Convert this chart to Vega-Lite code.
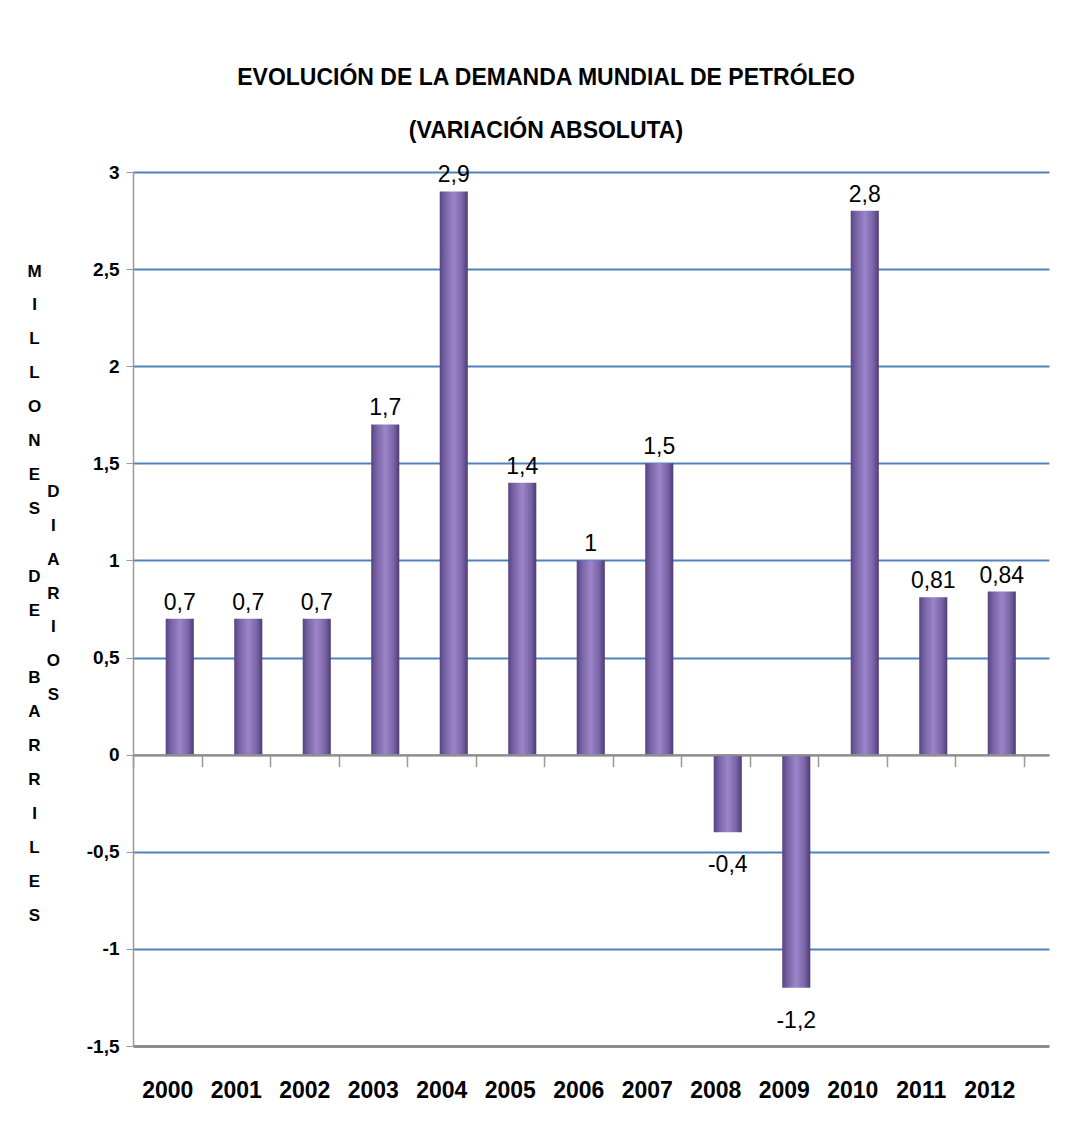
{
  "$schema": "https://vega.github.io/schema/vega-lite/v6.json",
  "autosize": "none",
  "padding": {"left": 133, "top": 172, "right": 42, "bottom": 93},
  "width": 916,
  "height": 874,
  "background": "white",
  "config": {
    "locale": {"number": {"decimal": ",", "thousands": ".", "grouping": [3], "currency": ["", " €"], "minus": "-"}},
    "view": {"stroke": null},
    "font": "Liberation Sans"
  },
  "title": {
    "text": ["EVOLUCIÓN DE LA DEMANDA MUNDIAL DE PETRÓLEO", "(VARIACIÓN ABSOLUTA)"],
    "font": "Liberation Sans",
    "fontSize": 23,
    "fontWeight": "bold",
    "color": "#000000",
    "anchor": "middle",
    "frame": "group",
    "dx": -45,
    "baseline": "alphabetic",
    "offset": 2,
    "lineHeight": 53
  },
  "data": {
    "values": [
      {"year": "2000", "v": 0.7},
      {"year": "2001", "v": 0.7},
      {"year": "2002", "v": 0.7},
      {"year": "2003", "v": 1.7},
      {"year": "2004", "v": 2.9},
      {"year": "2005", "v": 1.4},
      {"year": "2006", "v": 1},
      {"year": "2007", "v": 1.5},
      {"year": "2008", "v": -0.4},
      {"year": "2009", "v": -1.2},
      {"year": "2010", "v": 2.8},
      {"year": "2011", "v": 0.81},
      {"year": "2012", "v": 0.84}
    ]
  },
  "encoding": {
    "x": {
      "field": "year",
      "type": "ordinal",
      "title": null,
      "scale": {"paddingInner": 0, "paddingOuter": 0.186, "align": 0},
      "axis": {
        "orient": "bottom",
        "offset": -291.33,
        "tickBand": "extent",
        "tickSize": 12,
        "tickColor": "#9a9a9a",
        "tickWidth": 1.5,
        "domainColor": "#8c8c8c",
        "domainWidth": 2,
        "labelAngle": 0,
        "labelFontSize": 23,
        "labelFontWeight": "bold",
        "labelColor": "#000000",
        "labelBaseline": "middle",
        "labelPadding": 324,
        "grid": false,
        "zindex": 1
      }
    },
    "y": {
      "field": "v",
      "type": "quantitative",
      "scale": {"domain": [-1.5, 3], "nice": false, "zero": false},
      "axis": {
        "values": [-1.5, -1, -0.5, 0, 0.5, 1, 1.5, 2, 2.5, 3],
        "format": "~g",
        "labelFontSize": 19,
        "labelFontWeight": "bold",
        "labelColor": "#000000",
        "labelPadding": 7,
        "tickSize": 7,
        "tickColor": "#9a9a9a",
        "domainColor": "#9a9a9a",
        "domainWidth": 1.5,
        "grid": true,
        "gridColor": {"condition": {"test": "datum.value <= -1.5 || datum.value === 0", "value": "#8c8c8c"}, "value": "#4f81bd"},
        "gridWidth": {"condition": {"test": "datum.value <= -1.5", "value": 3}, "value": 2},
        "gridOpacity": 1,
        "title": ["M", "\u200b", "I", "\u200b", "L", "\u200b", "L", "\u200b", "O", "\u200b", "N", "\u200b", "E", "\u200b\u00a0\u00a0\u00a0\u00a0\u00a0\u00a0\u00a0\u00a0D", "S", "\u200b\u00a0\u00a0\u00a0\u00a0\u00a0\u00a0\u00a0\u00a0I", "\u200b", "\u200b\u00a0\u00a0\u00a0\u00a0\u00a0\u00a0\u00a0\u00a0A", "D", "\u200b\u00a0\u00a0\u00a0\u00a0\u00a0\u00a0\u00a0\u00a0R", "E", "\u200b\u00a0\u00a0\u00a0\u00a0\u00a0\u00a0\u00a0\u00a0I", "\u200b", "\u200b\u00a0\u00a0\u00a0\u00a0\u00a0\u00a0\u00a0\u00a0O", "B", "\u200b\u00a0\u00a0\u00a0\u00a0\u00a0\u00a0\u00a0\u00a0S", "A", "\u200b", "R", "\u200b", "R", "\u200b", "I", "\u200b", "L", "\u200b", "E", "\u200b", "S"],
        "titleAngle": 0,
        "titleAlign": "center",
        "titleBaseline": "alphabetic",
        "titleX": -99,
        "titleY": 104,
        "titleLineHeight": 16.95,
        "titleFontSize": 17,
        "titleFontWeight": "bold",
        "titleColor": "#000000"
      }
    }
  },
  "layer": [
    {
      "mark": {
        "type": "bar",
        "width": {"band": 0.41},
        "xOffset": 12.5,
        "fill": {
          "gradient": "linear",
          "x1": 0, "y1": 0, "x2": 1, "y2": 0,
          "stops": [
            {"offset": 0, "color": "#574480"},
            {"offset": 0.2, "color": "#7a64a8"},
            {"offset": 0.5, "color": "#9c85c8"},
            {"offset": 0.8, "color": "#7a64a8"},
            {"offset": 1, "color": "#4d3c72"}
          ]
        }
      }
    },
    {
      "transform": [{"filter": "datum.v >= 0"}],
      "mark": {"type": "text", "xOffset": 12.5, "dy": -9, "baseline": "alphabetic", "fontSize": 23, "color": "#000000"},
      "encoding": {"text": {"field": "v", "type": "quantitative", "format": "~g"}}
    },
    {
      "transform": [{"filter": "datum.v < 0"}],
      "mark": {"type": "text", "xOffset": 12.5, "dy": 40, "baseline": "alphabetic", "fontSize": 23, "color": "#000000"},
      "encoding": {"text": {"field": "v", "type": "quantitative", "format": "~g"}}
    }
  ]
}
